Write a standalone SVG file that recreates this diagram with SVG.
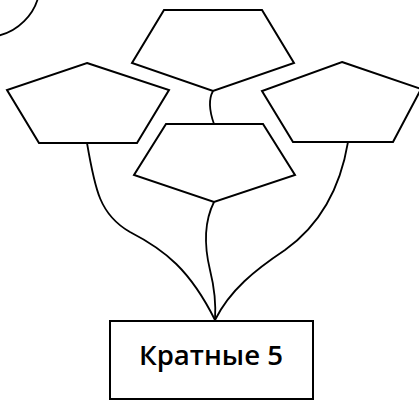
<svg xmlns="http://www.w3.org/2000/svg" width="419" height="401" viewBox="0 0 419 401">
<style>
.s{fill:#fff;stroke:#000;stroke-width:2;stroke-linejoin:miter}
.c{fill:none;stroke:#000;stroke-width:1.8}
text{font-family:"Open Sans","Noto Sans","DejaVu Sans",sans-serif;font-size:27px;font-weight:600;fill:#000}
</style>
<rect width="419" height="401" fill="#fff"/>
<circle cx="-14" cy="-17" r="54" class="c"/>
<g id="connectors">
<path class="c" d="M213,91 C208,100 209,110 214,124"/>
<path class="c" d="M87,143 C95,190 100,215 130,232 C165,250 190,270 215,320"/>
<path class="c" d="M348,142 C340,190 320,225 285,250 C255,270 230,290 215,320"/>
<path class="c" d="M214,202 C204,222 204,245 210,270 C215,290 216,305 215,320"/>
</g>
<g id="top"><polygon class="s" points="164,10 262,10 294,63 213,91 132,63"/></g>
<g id="left"><polygon class="s" points="87,63 169,90 137,143 39,143 7,90"/></g>
<g id="right"><polygon class="s" points="342,62 421,89 393,142 293,142 262,91"/></g>
<g id="center"><polygon class="s" points="166,124 263,124 295,175 214,202 134,175"/></g>
<g id="box"><rect class="s" x="110" y="321" width="203" height="78"/>
<text x="211" y="365" text-anchor="middle" textLength="144" lengthAdjust="spacingAndGlyphs">Кратные 5</text></g>
</svg>
